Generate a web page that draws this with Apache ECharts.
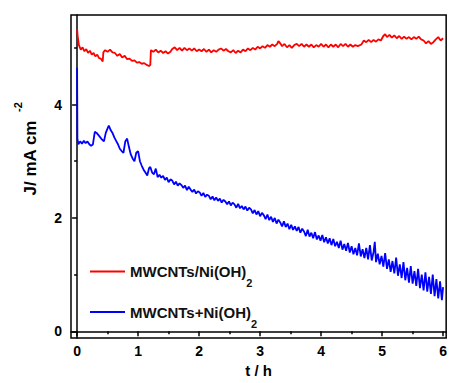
<!DOCTYPE html>
<html>
<head>
<meta charset="utf-8">
<script src="https://cdn.jsdelivr.net/npm/echarts@6/dist/echarts.min.js"></script>
<style>
  html, body { margin: 0; padding: 0; background: #fff; }
  #main { width: 450px; height: 383px; }
</style>
</head>
<body>
<div id="main"></div>
<script>
// t (h), J (mA cm-2)
var redPoints = [
  [0,5.33],[0.01,5.2],[0.03,5.05],[0.06,4.97],[0.09,5.01],[0.12,4.94],[0.15,4.98],[0.18,4.91],[0.21,4.95],[0.24,4.88],
  [0.27,4.91],[0.3,4.85],[0.33,4.88],[0.36,4.82],[0.39,4.81],[0.42,4.76],[0.43,4.92],[0.46,4.96],[0.5,4.93],[0.54,4.97],
  [0.58,4.92],[0.62,4.91],[0.66,4.86],[0.7,4.89],[0.74,4.83],[0.78,4.86],[0.82,4.8],[0.86,4.81],[0.9,4.77],[0.94,4.78],
  [0.98,4.74],[1.02,4.75],[1.06,4.72],[1.1,4.73],[1.14,4.7],[1.18,4.68],[1.2,4.7],[1.21,4.96],[1.25,4.93],[1.29,4.97],
  [1.33,4.92],[1.37,4.95],[1.41,4.91],[1.45,4.94],[1.49,4.9],[1.53,4.93],[1.56,4.98],[1.6,5.01],[1.64,4.96],[1.68,5.0],
  [1.72,4.95],[1.76,5.0],[1.8,4.96],[1.84,4.99],[1.88,4.95],[1.92,4.99],[1.96,4.94],[2.0,4.97],[2.04,4.94],[2.08,4.98],
  [2.12,4.93],[2.16,4.97],[2.2,4.92],[2.24,4.96],[2.28,4.93],[2.32,4.97],[2.36,4.99],[2.4,4.95],[2.44,4.98],[2.48,4.94],
  [2.52,4.92],[2.56,4.96],[2.6,4.91],[2.64,4.95],[2.68,4.92],[2.72,4.97],[2.76,4.94],[2.8,4.99],[2.84,4.96],[2.88,5.0],
  [2.92,4.97],[2.96,5.02],[3.0,4.99],[3.04,5.03],[3.08,5.0],[3.12,5.05],[3.16,5.02],[3.2,5.06],[3.24,5.03],[3.28,5.07],
  [3.3,5.12],[3.33,5.08],[3.36,5.03],[3.4,5.07],[3.44,5.01],[3.48,5.05],[3.52,5.0],[3.56,5.05],[3.6,5.07],[3.64,5.03],
  [3.68,5.07],[3.72,5.02],[3.76,5.06],[3.8,5.02],[3.84,5.06],[3.88,5.01],[3.92,5.05],[3.96,5.02],[4.0,5.07],[4.04,5.02],
  [4.08,5.06],[4.12,5.01],[4.16,5.06],[4.2,5.02],[4.24,5.06],[4.28,5.01],[4.32,5.07],[4.36,5.03],[4.4,5.07],[4.44,5.02],
  [4.48,5.06],[4.52,5.02],[4.56,5.05],[4.6,5.03],[4.66,5.06],[4.7,5.13],[4.74,5.1],[4.78,5.14],[4.82,5.1],[4.86,5.14],
  [4.9,5.11],[4.94,5.15],[4.98,5.13],[5.02,5.21],[5.05,5.24],[5.08,5.19],[5.12,5.23],[5.16,5.18],[5.2,5.22],[5.24,5.17],
  [5.28,5.21],[5.32,5.16],[5.36,5.2],[5.4,5.16],[5.44,5.19],[5.48,5.15],[5.52,5.19],[5.56,5.16],[5.6,5.2],[5.64,5.15],
  [5.68,5.13],[5.72,5.08],[5.76,5.12],[5.8,5.07],[5.84,5.1],[5.88,5.15],[5.92,5.19],[5.96,5.13],[6.0,5.17]
];
var bluePoints = [
  [0,4.65],[0.005,3.4],[0.02,3.3],[0.05,3.35],[0.08,3.31],[0.11,3.36],[0.14,3.32],[0.17,3.35],[0.2,3.3],[0.23,3.27],
  [0.26,3.3],[0.29,3.52],[0.32,3.5],[0.35,3.46],[0.38,3.42],[0.41,3.38],[0.44,3.35],[0.47,3.5],[0.5,3.58],[0.52,3.63],
  [0.55,3.55],[0.58,3.5],[0.61,3.42],[0.64,3.36],[0.67,3.3],[0.7,3.22],[0.73,3.18],[0.76,3.15],[0.79,3.35],[0.82,3.4],
  [0.85,3.25],[0.88,3.12],[0.91,3.05],[0.94,3.0],[0.97,3.15],[1.0,3.18],[1.03,3.0],[1.06,2.92],[1.09,2.85],[1.12,2.8],
  [1.15,2.75],[1.18,2.88],[1.2,2.9],[1.23,2.8],[1.26,2.77],[1.29,2.87],[1.32,2.72],[1.35,2.76],[1.38,2.71],[1.41,2.74],
  [1.44,2.67],[1.47,2.71],[1.5,2.63],[1.53,2.68],[1.56,2.66],[1.59,2.59],[1.62,2.64],[1.65,2.57],[1.68,2.61],[1.71,2.58],
  [1.74,2.53],[1.77,2.57],[1.8,2.49],[1.83,2.55],[1.86,2.5],[1.89,2.46],[1.92,2.5],[1.95,2.43],[1.98,2.47],[2.01,2.45],
  [2.04,2.39],[2.07,2.44],[2.1,2.37],[2.13,2.41],[2.16,2.39],[2.19,2.33],[2.22,2.38],[2.25,2.31],[2.28,2.36],[2.31,2.3],
  [2.34,2.34],[2.37,2.27],[2.4,2.32],[2.43,2.29],[2.46,2.24],[2.49,2.29],[2.52,2.22],[2.55,2.27],[2.58,2.24],[2.61,2.18],
  [2.64,2.25],[2.67,2.17],[2.7,2.21],[2.73,2.15],[2.76,2.2],[2.79,2.13],[2.82,2.18],[2.85,2.15],[2.88,2.08],[2.91,2.14],
  [2.94,2.06],[2.97,2.12],[3.0,2.03],[3.03,2.09],[3.06,2.05],[3.09,1.98],[3.12,2.06],[3.15,1.96],[3.18,2.02],[3.21,1.93],
  [3.24,2.0],[3.27,1.9],[3.3,1.97],[3.33,1.92],[3.36,1.85],[3.39,1.94],[3.42,1.84],[3.45,1.9],[3.48,1.8],[3.51,1.88],
  [3.54,1.79],[3.57,1.85],[3.6,1.77],[3.63,1.84],[3.66,1.74],[3.69,1.81],[3.72,1.76],[3.75,1.68],[3.78,1.79],[3.81,1.67],
  [3.84,1.74],[3.87,1.64],[3.9,1.75],[3.93,1.62],[3.96,1.69],[3.99,1.6],[4.02,1.7],[4.05,1.57],[4.08,1.66],[4.11,1.55],
  [4.14,1.64],[4.17,1.52],[4.2,1.63],[4.23,1.5],[4.26,1.58],[4.29,1.47],[4.32,1.6],[4.35,1.44],[4.38,1.54],[4.41,1.42],
  [4.44,1.56],[4.47,1.39],[4.5,1.5],[4.53,1.36],[4.56,1.47],[4.59,1.34],[4.62,1.55],[4.65,1.32],[4.68,1.45],[4.71,1.29],
  [4.74,1.47],[4.77,1.27],[4.8,1.52],[4.83,1.25],[4.86,1.4],[4.88,1.58],[4.9,1.22],[4.93,1.37],[4.96,1.18],[4.99,1.33],
  [5.02,1.14],[5.05,1.38],[5.08,1.1],[5.11,1.27],[5.14,1.05],[5.17,1.24],[5.2,1.02],[5.23,1.3],[5.26,0.98],[5.29,1.18],
  [5.32,0.94],[5.35,1.22],[5.38,0.9],[5.41,1.12],[5.44,0.86],[5.47,1.15],[5.5,0.84],[5.53,1.06],[5.56,0.8],[5.59,1.1],
  [5.62,0.76],[5.65,1.0],[5.68,0.72],[5.71,1.04],[5.74,0.7],[5.77,0.96],[5.8,0.66],[5.83,1.0],[5.86,0.62],[5.89,0.92],
  [5.92,0.58],[5.95,0.88],[5.98,0.55],[6.0,0.78]
];
var seriesNames = ['MWCNTs/Ni(OH)2', 'MWCNTs+Ni(OH)2'];
var xTicks = [0, 1, 2, 3, 4, 5, 6];
var xMinorTicks = [0.5, 1.5, 2.5, 3.5, 4.5, 5.5];
var yTicks = [0, 2, 4];
var yMinorTicks = [1, 3, 5];

var font = 'Liberation Sans, Arial, sans-serif';
var chart = echarts.init(document.getElementById('main'), null, { renderer: 'svg' });

var xRange = { min: -0.1, max: 6.05 };
var yRange = { min: -0.12, max: 5.58 };
var blackLine = { show: true, lineStyle: { color: '#000', width: 1.5 } };

var option = {
  animation: false,
  backgroundColor: '#fff',
  grid: { left: 71, right: 3, top: 15, bottom: 43, show: true, borderColor: '#000', borderWidth: 1.5 },
  xAxis: [
    {
      type: 'value', min: xRange.min, max: xRange.max, position: 'bottom',
      axisLine: blackLine, splitLine: { show: false },
      axisTick: { show: true, length: 5, lineStyle: { color: '#000', width: 1.5 }, customValues: xTicks },
      axisLabel: { customValues: xTicks, margin: 6, color: '#000', fontSize: 14, fontWeight: 'bold', fontFamily: font },
      name: 't / h', nameLocation: 'middle', nameGap: 23,
      nameTextStyle: { color: '#000', fontSize: 15, fontWeight: 'bold', fontFamily: font, verticalAlign: 'top' }
    },
    {
      type: 'value', min: xRange.min, max: xRange.max, position: 'bottom',
      axisLine: { show: false }, splitLine: { show: false },
      axisTick: { show: true, length: 3, lineStyle: { color: '#000', width: 1.5 }, customValues: xMinorTicks },
      axisLabel: { show: false }
    }
  ],
  yAxis: [
    {
      type: 'value', min: yRange.min, max: yRange.max, position: 'left',
      axisLine: blackLine, splitLine: { show: false },
      axisTick: { show: true, length: 5, lineStyle: { color: '#000', width: 1.5 }, customValues: yTicks },
      axisLabel: { customValues: yTicks, margin: 9, color: '#000', fontSize: 14, fontWeight: 'bold', fontFamily: font }
    },
    {
      type: 'value', min: yRange.min, max: yRange.max, position: 'left',
      axisLine: { show: false }, splitLine: { show: false },
      axisTick: { show: true, length: 3, lineStyle: { color: '#000', width: 1.5 }, customValues: yMinorTicks },
      axisLabel: { show: false }
    }
  ],
  legend: {
    orient: 'vertical', left: 85, top: 259, itemGap: 16,
    icon: 'rect', itemWidth: 35, itemHeight: 2,
    data: seriesNames,
    formatter: function (name) { return '{m|' + name.slice(0, -1) + '}{sub|2}'; },
    textStyle: {
      color: '#111', fontSize: 15, fontWeight: 'bold', fontFamily: font,
      rich: {
        m: { fontSize: 15, fontWeight: 'bold', fontFamily: font, color: '#111', lineHeight: 22, verticalAlign: 'middle' },
        sub: { fontSize: 11, fontWeight: 'bold', fontFamily: font, color: '#111', lineHeight: 34, verticalAlign: 'bottom' }
      }
    }
  },
  graphic: [
    {
      type: 'text', x: 30, y: 158, rotation: Math.PI / 2,
      style: { text: 'J/ mA cm', fill: '#000', font: 'bold 17px ' + font, align: 'center', verticalAlign: 'middle' }
    },
    {
      type: 'text', x: 18, y: 107, rotation: Math.PI / 2,
      style: { text: '-2', fill: '#000', font: 'bold 11px ' + font, align: 'center', verticalAlign: 'middle' }
    }
  ],
  series: [
    {
      name: seriesNames[0], type: 'line', data: redPoints, showSymbol: false,
      lineStyle: { color: '#ff0000', width: 1.8 }, itemStyle: { color: '#ff0000' }
    },
    {
      name: seriesNames[1], type: 'line', data: bluePoints, showSymbol: false,
      lineStyle: { color: '#0000ff', width: 1.8 }, itemStyle: { color: '#0000ff' }
    }
  ]
};
chart.setOption(option);
</script>
</body>
</html>
